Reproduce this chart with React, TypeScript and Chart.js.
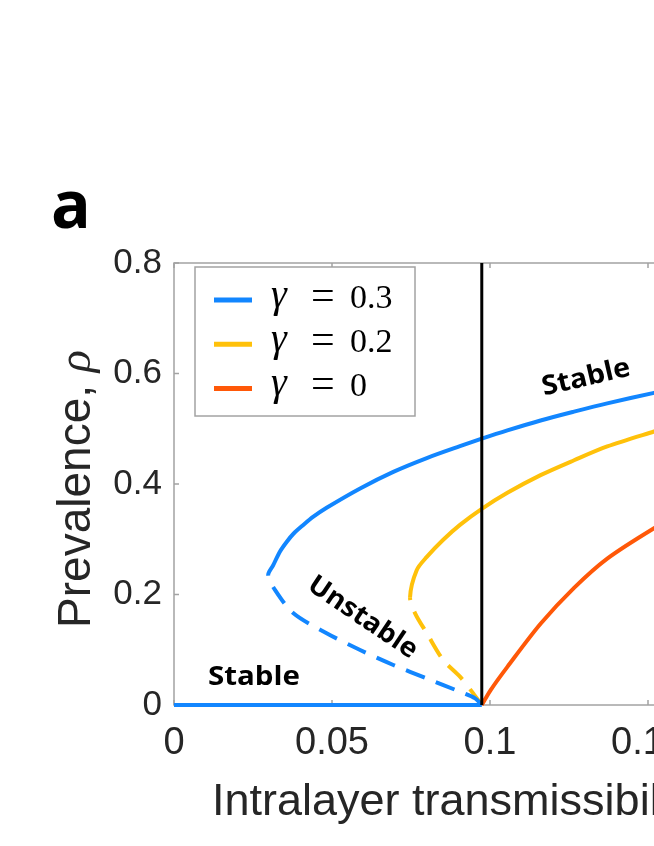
import React, { useEffect, useRef } from "react";
import { Chart, registerables } from "chart.js";

Chart.register(...registerables);

// ---------------- data ----------------
const xTickValues = [0, 0.05, 0.1, 0.15, 0.2];
const xTickLabels = ["0", "0.05", "0.1", "0.15", "0.2"];
const yTickValues = [0, 0.2, 0.4, 0.6, 0.8];
const yTickLabels = ["0", "0.2", "0.4", "0.6", "0.8"];

const criticalBeta = 0.0974;

// gamma = 0.3 (stable branch starts at the turning point)
const blueStableX = [0.0298, 0.0314, 0.0335, 0.0357, 0.0378, 0.0409, 0.0441, 0.0483, 0.0589, 0.0694, 0.08, 0.0905, 0.0974, 0.1055, 0.116, 0.1266, 0.1371, 0.1519, 0.16, 0.2];
const blueStableY = [0.235, 0.253, 0.2775, 0.2956, 0.31, 0.3258, 0.3408, 0.357, 0.392, 0.422, 0.447, 0.4685, 0.482, 0.497, 0.515, 0.531, 0.546, 0.565, 0.575, 0.62];
const blueUnstableX = [0.0298, 0.032, 0.0378, 0.0483, 0.0589, 0.0694, 0.08, 0.0905, 0.0953, 0.0974];
const blueUnstableY = [0.235, 0.208, 0.166, 0.13, 0.0995, 0.0724, 0.048, 0.024, 0.012, 0];
const blueZeroX = [0, 0.0974];
const blueZeroY = [0, 0];

// gamma = 0.2
const yellowStableX = [0.0747, 0.0768, 0.08, 0.0852, 0.0905, 0.0974, 0.1055, 0.116, 0.1266, 0.1371, 0.1519, 0.16, 0.2];
const yellowStableY = [0.195, 0.244, 0.268, 0.299, 0.326, 0.355, 0.384, 0.416, 0.443, 0.468, 0.495, 0.509, 0.565];
const yellowUnstableX = [0.0747, 0.0763, 0.08, 0.0852, 0.0905, 0.0947, 0.0974];
const yellowUnstableY = [0.195, 0.166, 0.13, 0.0814, 0.0513, 0.021, 0];

// gamma = 0
const redX = [0.0974, 0.1002, 0.1055, 0.116, 0.1266, 0.1371, 0.1519, 0.16, 0.2];
const redY = [0, 0.027, 0.069, 0.147, 0.212, 0.265, 0.32, 0.345, 0.45];

const gammaLabels = ["0.3", "0.2", "0"];

// annotation anchor points (data coordinates)
const stableUpperAt = { x: 0.1304, y: 0.592 };
const unstableAt = { x: 0.0597, y: 0.158 };
const stableLowerAt = { x: 0.0253, y: 0.0498 };

// ---------------- styles ----------------
const BLUE = "rgb(18,134,255)";
const YELLOW = "rgb(255,193,10)";
const RED = "rgb(255,88,8)";
const seriesColors = [BLUE, YELLOW, RED];
const AXIS_GRAY = "#a3a3a3";
const TEXT = "#262626";
const DASH = [20, 12];

const pts = (xs: number[], ys: number[]) => xs.map((x, i) => ({ x, y: ys[i] }));

// one continuous branch: unstable part (from the zero end up to the turning point), then the stable part
function branch(ux: number[], uy: number[], sx: number[], sy: number[]) {
  const unstable = pts(ux, uy).reverse();
  const stable = pts(sx, sy).slice(1);
  return { data: [...unstable, ...stable], nDashedSegments: unstable.length - 1 };
}

const CW = 900;
const CH = 846;

function drawScaledText(
  ctx: CanvasRenderingContext2D,
  text: string,
  font: string,
  x: number,
  y: number,
  angle: number,
  targetW: number | null,
  align: CanvasTextAlign = "center",
  baseline: CanvasTextBaseline = "middle",
  color = "#000"
) {
  ctx.save();
  ctx.font = font;
  ctx.fillStyle = color;
  ctx.textAlign = align;
  ctx.textBaseline = baseline;
  ctx.translate(x, y);
  ctx.rotate((angle * Math.PI) / 180);
  if (targetW) {
    const w = ctx.measureText(text).width;
    ctx.scale(targetW / w, 1);
  }
  ctx.fillText(text, 0, 0);
  ctx.restore();
}

const overlay = {
  id: "overlay",
  beforeDatasetsDraw(chart: any) {
    const { ctx, chartArea: a, scales } = chart;
    ctx.save();
    ctx.strokeStyle = AXIS_GRAY;
    ctx.lineWidth = 1.5;
    ctx.strokeRect(a.left, a.top, a.right - a.left, a.bottom - a.top);
    const tl = 5;
    ctx.beginPath();
    for (const v of xTickValues) {
      const px = scales.x.getPixelForValue(v);
      ctx.moveTo(px, a.bottom);
      ctx.lineTo(px, a.bottom - tl);
      ctx.moveTo(px, a.top);
      ctx.lineTo(px, a.top + tl);
    }
    for (const v of yTickValues) {
      const py = scales.y.getPixelForValue(v);
      ctx.moveTo(a.left, py);
      ctx.lineTo(a.left + tl, py);
      ctx.moveTo(a.right, py);
      ctx.lineTo(a.right - tl, py);
    }
    ctx.stroke();
    ctx.restore();
  },
  afterDatasetsDraw(chart: any) {
    const { ctx, chartArea: a, scales } = chart;
    // legend
    const lx = a.left + 21;
    const ly = a.top + 4;
    const lw = 220;
    const lh = 149;
    ctx.save();
    ctx.fillStyle = "#fff";
    ctx.fillRect(lx, ly, lw, lh);
    ctx.strokeStyle = AXIS_GRAY;
    ctx.lineWidth = 1.5;
    ctx.strokeRect(lx, ly, lw, lh);
    gammaLabels.forEach((g, i) => {
      const y = ly + 33 + i * 44.2;
      ctx.strokeStyle = seriesColors[i];
      ctx.lineWidth = 5;
      ctx.beginPath();
      ctx.moveTo(lx + 19, y);
      ctx.lineTo(lx + 57, y);
      ctx.stroke();
      ctx.fillStyle = "#000";
      ctx.textAlign = "left";
      ctx.textBaseline = "alphabetic";
      ctx.font = "italic 40px 'Liberation Serif'";
      ctx.fillText("γ", lx + 76, y + 7);
      ctx.font = "42px 'Liberation Serif'";
      ctx.fillText("=", lx + 116, y + 9);
      ctx.font = "34px 'Liberation Serif'";
      ctx.fillText(g, lx + 155, y + 8);
    });
    ctx.restore();

    // annotations
    const f = "bold 27px 'Open Sans'";
    drawScaledText(ctx, "Stable", f, scales.x.getPixelForValue(stableUpperAt.x), scales.y.getPixelForValue(stableUpperAt.y), -13, 90);
    drawScaledText(ctx, "Unstable", f, scales.x.getPixelForValue(unstableAt.x), scales.y.getPixelForValue(unstableAt.y), 34, 126);
    drawScaledText(ctx, "Stable", f, scales.x.getPixelForValue(stableLowerAt.x), scales.y.getPixelForValue(stableLowerAt.y), 0, 92);
  },
  afterDraw(chart: any) {
    const { ctx } = chart;
    ctx.save();
    // panel letter
    ctx.fillStyle = "#000";
    ctx.font = "bold 66px 'Open Sans'";
    ctx.textAlign = "left";
    ctx.textBaseline = "alphabetic";
    ctx.fillText("a", 51, 228);

    // x title
    ctx.fillStyle = TEXT;
    ctx.font = "45px 'Liberation Sans'";
    const xt = "Intralayer transmissibility, ";
    ctx.fillText(xt, 212, 815);
    const xw = ctx.measureText(xt).width;
    ctx.font = "italic 45px 'Liberation Serif'";
    ctx.fillText("β", 212 + xw, 815);

    // y title
    ctx.translate(90, 489);
    ctx.rotate(-Math.PI / 2);
    ctx.font = "46px 'Liberation Sans'";
    const yt = "Prevalence, ";
    const w1 = ctx.measureText(yt).width;
    ctx.font = "italic 46px 'Liberation Serif'";
    const w2 = ctx.measureText("ρ").width;
    const start = -(w1 + w2) / 2;
    ctx.font = "46px 'Liberation Sans'";
    ctx.fillText(yt, start, 0);
    ctx.font = "italic 46px 'Liberation Serif'";
    ctx.fillText("ρ", start + w1, 0);
    ctx.restore();
  },
};

export default function App() {
  const ref = useRef<HTMLCanvasElement>(null);
  useEffect(() => {
    const canvas = ref.current!;
    const common = {
      pointRadius: 0,
      fill: false,
      clip: 10,
      tension: 0.3,
      borderCapStyle: "butt" as const,
    };
    const blue = branch(blueUnstableX, blueUnstableY, blueStableX, blueStableY);
    const yellow = branch(yellowUnstableX, yellowUnstableY, yellowStableX, yellowStableY);
    const dashed = (n: number) => ({
      borderDash: (c: any) => (c.p0DataIndex < n ? DASH : undefined),
    });
    const chart = new Chart(canvas, {
      type: "line",
      data: {
        datasets: [
          { ...common, data: pts([criticalBeta, criticalBeta], [0, 0.8]), borderColor: "#000", borderWidth: 3, tension: 0 },
          { ...common, data: blue.data, borderColor: BLUE, borderWidth: 4, segment: dashed(blue.nDashedSegments) },
          { ...common, data: pts(blueZeroX, blueZeroY), borderColor: BLUE, borderWidth: 4, tension: 0 },
          { ...common, data: yellow.data, borderColor: YELLOW, borderWidth: 4, segment: dashed(yellow.nDashedSegments) },
          { ...common, data: pts(redX, redY), borderColor: RED, borderWidth: 4 },
        ],
      },
      options: {
        animation: false,
        responsive: false,
        devicePixelRatio: 1,
        layout: { padding: { top: 263, right: CW - 806, left: 0, bottom: 0 } },
        plugins: { legend: { display: false }, tooltip: { enabled: false } },
        scales: {
          x: {
            type: "linear",
            min: 0,
            max: 0.2,
            afterBuildTicks: (s: any) => {
              s.ticks = xTickValues.map((v) => ({ value: v }));
            },
            afterFit: (s: any) => {
              s.height = CH - 705;
            },
            grid: { display: false, drawTicks: false },
            border: { display: false },
            ticks: {
              autoSkip: false,
              maxRotation: 0,
              padding: 16,
              color: TEXT,
              font: { family: "'Liberation Sans'", size: 38 },
              callback: (_v: any, i: number) => xTickLabels[i],
            },
          },
          y: {
            type: "linear",
            min: 0,
            max: 0.8,
            afterBuildTicks: (s: any) => {
              s.ticks = yTickValues.map((v) => ({ value: v }));
            },
            afterFit: (s: any) => {
              s.width = 174;
            },
            grid: { display: false, drawTicks: false },
            border: { display: false },
            ticks: {
              autoSkip: false,
              padding: 12,
              color: TEXT,
              font: { family: "'Liberation Sans'", size: 35 },
              callback: (_v: any, i: number) => yTickLabels[i],
            },
          },
        },
      },
      plugins: [overlay],
    });
    return () => chart.destroy();
  }, []);
  return (
    <div style={{ position: "fixed", left: 0, top: 0, width: 654, height: 846, overflow: "hidden", background: "#fff" }}>
      <canvas ref={ref} width={CW} height={CH} style={{ display: "block", width: CW, height: CH }} />
    </div>
  );
}
